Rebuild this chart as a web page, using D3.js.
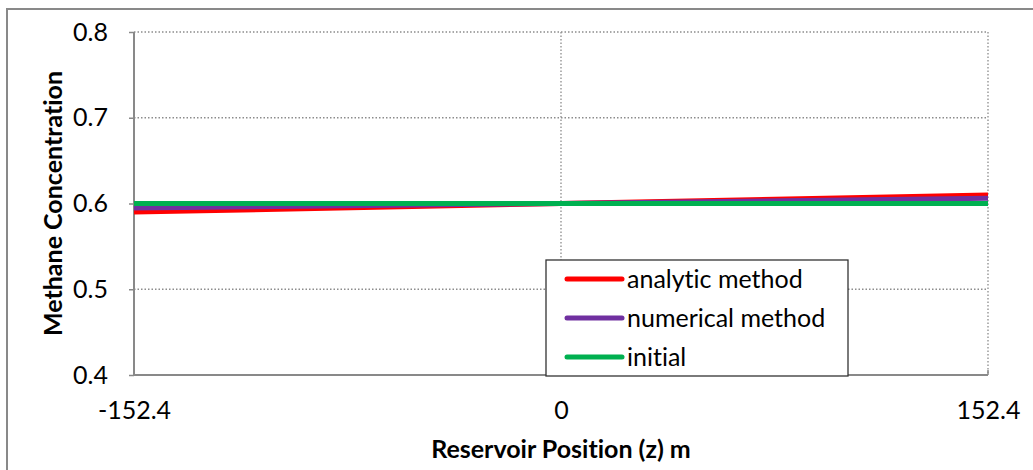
<!DOCTYPE html>
<html><head><meta charset="utf-8">
<script src="https://cdn.jsdelivr.net/npm/d3@7"></script>
<style>body{margin:0;background:#fff}svg{display:block}text{font-variant-ligatures:none;font-feature-settings:"liga" 0}</style>
</head><body>
<svg id="c" width="1033" height="470"></svg>
<script>
const positions = [-152.4, 0, 152.4];
const analytic = [0.590, 0.600, 0.610];
const numerical = [0.5948, 0.600, 0.6062];
const initial = [0.600, 0.600, 0.600];
const seriesNames = ["analytic method", "numerical method", "initial"];
const seriesColors = ["#FF0000", "#7030A0", "#00B050"];
const xTicks = [-152.4, 0, 152.4];
const xTickLabels = ["-152.4", "0", "152.4"];
const yTicks = [0.4, 0.5, 0.6, 0.7, 0.8];
const yTickLabels = ["0.4", "0.5", "0.6", "0.7", "0.8"];

const FONT = "Lato, 'Open Sans', sans-serif";
const FS = 25;
const svg = d3.select("#c");
const L = 134, R = 988, T = 32, B = 375;
const x = d3.scaleLinear().domain([-152.4, 152.4]).range([L, R]);
const y = d3.scaleLinear().domain([0.4, 0.8]).range([B, T]);

// outer border
svg.append("path").attr("d", `M7,475 L7,9 L1040,9`).attr("fill","none").attr("stroke","#898989").attr("stroke-width",2);

// gridlines
const grid = svg.append("g");
grid.selectAll("line.h").data(yTicks.filter(v=>v>0.4)).join("line")
  .attr("x1", L).attr("x2", R).attr("y1", d=>y(d)).attr("y2", d=>y(d))
  .attr("stroke","#8c8c8c").attr("stroke-width",1.3).attr("stroke-dasharray","1.5,2");
grid.selectAll("line.v").data(xTicks.filter(v=>v>-152.4)).join("line")
  .attr("x1", d=>x(d)).attr("x2", d=>x(d)).attr("y1", T).attr("y2", B)
  .attr("stroke","#8c8c8c").attr("stroke-width",1.3).attr("stroke-dasharray","1.5,2");

// axes
const yAxis = d3.axisLeft(y).tickValues(yTicks).tickSize(5).tickFormat((d,i)=>yTickLabels[i]);
const gy = svg.append("g").attr("transform",`translate(${L},0)`).call(yAxis);
gy.select(".domain").remove();
gy.selectAll(".tick line").attr("stroke","#898989").attr("stroke-width",1.5);
gy.selectAll(".tick text").attr("x",-26).attr("font-family",FONT).attr("font-size",FS).attr("fill","#000");
svg.append("line").attr("x1",L).attr("x2",L).attr("y1",T).attr("y2",B+1).attr("stroke","#898989").attr("stroke-width",2);

const xAxis = d3.axisBottom(x).tickValues(xTicks).tickSize(0).tickFormat((d,i)=>xTickLabels[i]);
const gx = svg.append("g").attr("transform",`translate(0,${B})`).call(xAxis);
gx.select(".domain").remove();
gx.selectAll(".tick text").attr("y",26).attr("font-family",FONT).attr("font-size",FS).attr("fill","#000");
svg.append("line").attr("x1",L-1).attr("x2",R).attr("y1",B).attr("y2",B).attr("stroke","#898989").attr("stroke-width",2);
svg.selectAll("line.xt").data(xTicks.filter(v=>v>-152.4)).join("line")
  .attr("x1",d=>x(d)).attr("x2",d=>x(d)).attr("y1",B-5).attr("y2",B).attr("stroke","#898989").attr("stroke-width",1.5);

// series
const all = [analytic, numerical, initial];
const line = d3.line().x((d,i)=>x(positions[i])).y(d=>y(d));
svg.selectAll("path.s").data(all).join("path")
  .attr("d", d=>line(d)).attr("fill","none")
  .attr("stroke",(d,i)=>seriesColors[i]).attr("stroke-width",5);

// titles
svg.append("text").attr("x",(L+R)/2).attr("y",458).attr("text-anchor","middle")
  .attr("font-family",FONT).attr("font-size",FS).attr("font-weight","bold").text("Reservoir Position (z) m");
svg.append("text").attr("transform",`translate(62,${(T+B)/2}) rotate(-90)`).attr("text-anchor","middle")
  .attr("font-family",FONT).attr("font-size",FS).attr("font-weight","bold").text("Methane Concentration");

// legend
const lg = svg.append("g");
lg.append("rect").attr("x",546).attr("y",260).attr("width",302).attr("height",116)
  .attr("fill","#fff").attr("stroke","#333").attr("stroke-width",1.3);
const rows = [279, 318, 357];
seriesNames.forEach((n,i)=>{
  lg.append("line").attr("x1",567).attr("x2",622).attr("y1",rows[i]).attr("y2",rows[i])
    .attr("stroke",seriesColors[i]).attr("stroke-width",5).attr("stroke-linecap","round");
  lg.append("text").attr("x",627).attr("y",rows[i]).attr("dy","0.35em")
    .attr("font-family",FONT).attr("font-size",FS).attr("fill","#000").text(n);
});
</script>
</body></html>
